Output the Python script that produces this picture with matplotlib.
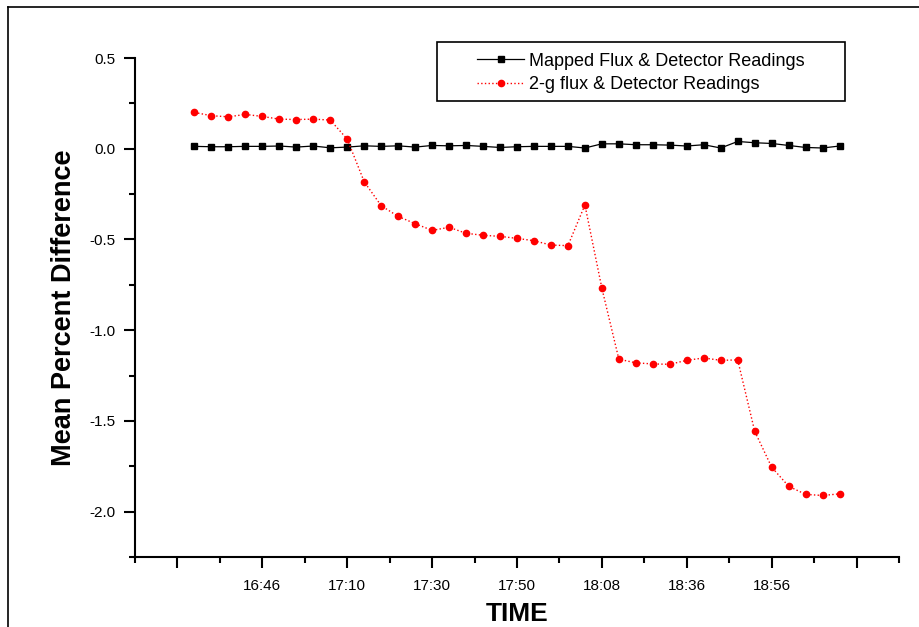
import numpy as np
import matplotlib.pyplot as plt
from matplotlib.lines import Line2D
from matplotlib.patches import Rectangle
from matplotlib.ticker import FixedLocator

plt.rcParams['font.family'] = ['Liberation Sans', 'DejaVu Sans']

# lecturas (39 puntos)
mapped = [0.013, 0.011, 0.011, 0.013, 0.013, 0.015, 0.009, 0.015, 0.005, 0.009,
          0.016, 0.013, 0.016, 0.009, 0.018, 0.016, 0.018, 0.013, 0.007, 0.011,
          0.013, 0.013, 0.013, 0.004, 0.027, 0.027, 0.022, 0.022, 0.020, 0.015,
          0.022, 0.004, 0.040, 0.033, 0.029, 0.018, 0.007, 0.004, 0.015]
twog = [0.200, 0.182, 0.176, 0.189, 0.178, 0.163, 0.161, 0.163, 0.158, 0.053,
        -0.182, -0.314, -0.373, -0.413, -0.450, -0.433, -0.466, -0.477, -0.483, -0.494,
        -0.507, -0.531, -0.534, -0.310, -0.769, -1.160, -1.180, -1.186, -1.188, -1.166,
        -1.153, -1.166, -1.164, -1.557, -1.755, -1.860, -1.905, -1.911, -1.902]

tick_pos = [-1, 4, 9, 14, 19, 24, 29, 34, 39]
tick_labels = ['', '16:46', '17:10', '17:30', '17:50', '18:08', '18:36', '18:56', '']

x = np.arange(len(mapped))

fig = plt.figure(figsize=(9.19, 6.27), dpi=100)
ax = fig.add_axes([135/919, 70/627, 764/919, 499/627])

ax.plot(x, mapped, color='black', lw=0.9, marker='s', ms=4,
        label='Mapped Flux & Detector Readings')
ax.plot(x, twog, color='red', lw=1.0, ls=':', marker='o', ms=4.5,
        label='2-g flux & Detector Readings')

ax.set_xlim(-3.5, 41.5)
ax.set_ylim(-2.25, 0.5)
ax.set_xticks(tick_pos)
ax.set_xticklabels(tick_labels)
ax.xaxis.set_minor_locator(FixedLocator(np.arange(-3.5, 42, 5)))
ax.set_yticks([-2.0, -1.5, -1.0, -0.5, 0.0, 0.5])
ax.set_yticklabels(['-2.0', '-1.5', '-1.0', '-0.5', '0.0', '0.5'])
ax.yaxis.set_minor_locator(FixedLocator(np.arange(-2.25, 0.5, 0.5)))

for s in ['top', 'right']:
    ax.spines[s].set_visible(False)
for s in ['left', 'bottom']:
    ax.spines[s].set_linewidth(1.5)

ax.tick_params(which='major', length=8, width=1.5, labelsize=11, pad=6)
ax.tick_params(which='minor', length=4, width=1.5)
ax.tick_params(axis='x', which='major', pad=8)

ax.set_xlabel('TIME', fontsize=19, fontweight='bold', labelpad=6)
ax.set_ylabel('Mean Percent Difference', fontsize=19.5, fontweight='bold', labelpad=9)

# leyenda sin marco + caja aparte (estilo Origin)
leg = ax.legend(loc='center left', bbox_to_anchor=(468/919, 1 - 73/627),
                bbox_transform=fig.transFigure, fontsize=13, frameon=False,
                handlelength=2.6, handletextpad=0.3, borderpad=0, labelspacing=0.36)
fig.add_artist(Rectangle((437/919, 1 - 101/627), 408/919, 59/627,
                         transform=fig.transFigure, fill=False,
                         edgecolor='black', lw=1.2))

# marco exterior
fig.add_artist(Line2D([8/919, 8/919], [0, 1 - 7/627], color='black', lw=1.2))
fig.add_artist(Line2D([8/919, 1], [1 - 7/627, 1 - 7/627], color='black', lw=1.2))

fig.savefig('out.png', dpi=100)
